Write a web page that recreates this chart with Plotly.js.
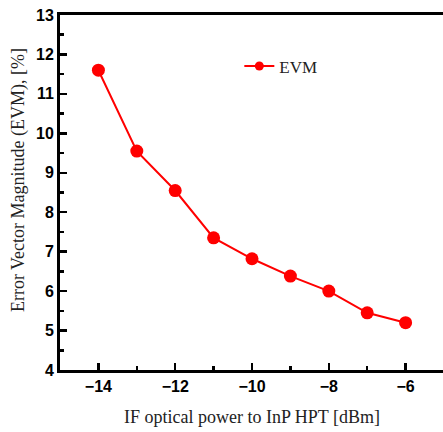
<!DOCTYPE html>
<html><head><meta charset="utf-8">
<script src="https://cdn.plot.ly/plotly-3.0.1.min.js"></script>
<style>html,body{margin:0;padding:0;overflow:hidden;background:#fff}</style>
</head><body>
<div id="chart" style="width:446px;height:432px"></div>
<script>
const power = [-14, -13, -12, -11, -10, -9, -8, -7, -6];
const evm = [11.6, 9.55, 8.55, 7.35, 6.82, 6.38, 6.0, 5.45, 5.2];
const seriesName = 'EVM';
const xTitle = 'IF optical power to InP HPT [dBm]';
const yTitle = 'Error Vector Magnitude (EVM), [%]';

const trace = {
  x: power, y: evm, name: seriesName, type: 'scatter', mode: 'lines+markers',
  line: {color: '#ff0000', width: 2},
  marker: {color: '#ff0000', size: 13},
  showlegend: false
};
const legendTrace = {
  x: [null], y: [null], name: seriesName, type: 'scatter', mode: 'lines+markers',
  line: {color: '#ff0000', width: 2},
  marker: {color: '#ff0000', size: 9}
};
const tickFont = {family: 'Liberation Sans, Arial, sans-serif', size: 16, color: '#000', weight: 'bold'};
const serif = 'Liberation Serif, Times New Roman, serif';
const layout = {
  width: 446, height: 432,
  margin: {l: 60, r: 2, t: 15, b: 62},
  paper_bgcolor: '#fff', plot_bgcolor: '#fff',
  showlegend: true,
  legend: {x: 0.467, y: 0.855, xanchor: 'left', yanchor: 'middle', bgcolor: 'rgba(0,0,0,0)',
    font: {family: serif, size: 17, color: '#222'}},
  xaxis: {
    range: [-15, -5], tickvals: [-14, -12, -10, -8, -6], ticks: 'inside', ticklen: 7, tickwidth: 2.5,
    tickcolor: '#000', showline: true, linecolor: '#000', linewidth: 3, mirror: true,
    showgrid: false, zeroline: false, tickfont: tickFont,
    minor: {tickvals: [-13, -11, -9, -7], ticks: 'inside', ticklen: 4, tickwidth: 2.5, tickcolor: '#000'},
    title: {text: xTitle, font: {family: serif, size: 18, color: '#222'}, standoff: 17}
  },
  yaxis: {
    range: [4, 13], dtick: 1, ticks: 'inside', ticklen: 7, tickwidth: 2.5,
    tickcolor: '#000', showline: true, linecolor: '#000', linewidth: 3, mirror: true,
    showgrid: false, zeroline: false, tickfont: tickFont,
    minor: {dtick: 0.5, ticks: 'inside', ticklen: 4, tickwidth: 2.5, tickcolor: '#000'}
  },
  annotations: [{
    text: yTitle, textangle: -90, xref: 'paper', yref: 'paper', x: 0, y: 0.535,
    xanchor: 'center', yanchor: 'middle', xshift: -42, showarrow: false,
    font: {family: serif, size: 18, color: '#222'}
  }]
};
Plotly.newPlot('chart', [trace, legendTrace], layout, {displayModeBar: false, staticPlot: true});
</script>
</body></html>
